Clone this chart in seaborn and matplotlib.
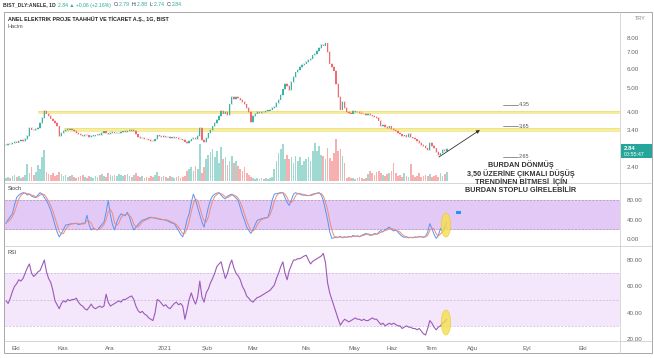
import numpy as np
import pandas as pd
import matplotlib
matplotlib.use("Agg")
import matplotlib.pyplot as plt
import seaborn as sns
from matplotlib.patches import Ellipse, Rectangle
from matplotlib.lines import Line2D
from matplotlib.ticker import NullLocator

# ---------------- data ----------------
closes = [
    2.95, 2.97, 2.96, 3.00, 3.02, 3.01, 3.05, 3.08, 3.06, 3.12,
    3.20, 3.45, 3.40, 3.38, 3.42, 3.45, 3.62, 3.80, 4.06, 3.95,
    3.85, 3.77, 3.70, 3.62, 3.50, 3.20, 3.30, 3.35, 3.38, 3.42,
    3.40, 3.40, 3.36, 3.30, 3.26, 3.22, 3.20, 3.24, 3.22, 3.18,
    3.20, 3.20, 3.22, 3.25, 3.24, 3.30, 3.34, 3.28, 3.26, 3.30,
    3.31, 3.28, 3.28, 3.30, 3.32, 3.34, 3.33, 3.36, 3.38, 3.36,
    3.36, 3.25, 3.18, 3.13, 3.15, 3.12, 3.10, 3.08, 3.06, 3.05,
    3.10, 3.22, 3.20, 3.18, 3.19, 3.16, 3.17, 3.14, 3.15, 3.16,
    3.14, 3.12, 3.10, 3.08, 3.04, 3.00, 3.05, 3.10, 3.15, 3.12,
    3.20, 3.45, 3.08, 3.02, 3.15, 3.28, 3.38, 3.50, 3.62, 3.71,
    3.85, 4.06, 3.95, 4.00, 3.90, 4.30, 4.60, 4.52, 4.60, 4.55,
    4.48, 4.40, 4.30, 4.15, 4.00, 3.66, 3.85, 3.95, 4.00, 3.98,
    4.02, 4.00, 4.04, 4.06, 4.10, 4.15, 4.20, 4.35, 4.50, 4.70,
    4.95, 5.20, 5.10, 4.90, 5.30, 5.55, 5.80, 5.95, 6.10, 6.20,
    6.30, 6.40, 6.50, 6.60, 6.80, 6.90, 7.10, 7.30, 7.50, 7.45,
    7.60, 7.00, 6.30, 6.10, 5.90, 5.20, 4.60, 4.10, 4.40, 4.15,
    4.00, 3.98, 3.95, 4.05, 4.00, 4.02, 3.98, 3.95, 3.92, 3.90,
    3.92, 3.88, 3.85, 3.82, 3.80, 3.70, 3.50, 3.55, 3.48, 3.45,
    3.50, 3.42, 3.38, 3.35, 3.30, 3.25, 3.20, 3.22, 3.18, 3.26,
    3.16, 3.14, 3.10, 3.05, 3.00, 2.95, 2.92, 2.85, 2.80, 3.00,
    2.92, 2.85, 2.75, 2.68, 2.72, 2.80, 2.78, 2.84,
]
first_open = 2.93

volume = [
    3, 4, 3, 5, 6, 4, 5, 3, 4, 6,
    17, 8, 14, 6, 9, 16, 12, 24, 31, 9,
    7, 6, 8, 5, 6, 9, 7, 5, 6, 4,
    5, 6, 4, 3, 4, 5, 6, 4, 3, 5,
    4, 3, 5, 4, 6, 7, 5, 4, 8, 6,
    5, 6, 5, 7, 6, 5, 6, 7, 5, 4,
    6, 8, 5, 4, 5, 3, 4, 3, 5, 4,
    6, 9, 5, 4, 5, 4, 3, 5, 4, 3,
    4, 5, 3, 4, 5, 10, 12, 14, 10, 15,
    12, 37, 8, 14, 22, 26, 29, 32, 24, 30,
    18, 34, 22, 24, 16, 20, 25, 18, 20, 15,
    12, 10, 14, 8, 6, 4, 3, 2, 3, 2,
    3, 2, 3, 2, 3, 4, 12, 20, 28, 32,
    37, 22, 26, 22, 24, 18, 25, 20, 24, 16,
    20, 22, 24, 20, 30, 38, 30, 35, 26, 25,
    22, 33, 23, 20, 28, 42, 30, 32, 25, 18,
    3, 4, 3, 3, 2, 3, 4, 3, 2, 3,
    7, 10, 8, 6, 9, 10, 8, 6, 5, 7,
    8, 10, 18, 8, 5, 6, 4, 8, 5, 4,
    17, 6, 4, 5, 8, 4, 5, 6, 5, 7,
    4, 5, 6, 4, 8, 5, 7, 9,
]

stoch_k = [
    32, 40, 46, 52, 70, 85, 90, 93, 95, 94,
    90, 92, 88, 86, 85, 90, 95, 92, 85, 79,
    70, 59, 45, 29, 15, 5, 12, 20, 29, 30,
    31, 32, 32, 33, 30, 31, 33, 32, 49, 30,
    19, 22, 20, 19, 25, 30, 35, 55, 79, 50,
    30, 19, 35, 45, 52, 50, 48, 55, 45, 30,
    19, 25, 30, 35, 39, 40, 42, 44, 45, 44,
    43, 42, 41, 40, 40, 39, 37, 35, 33, 32,
    25, 18, 10, 5, 20, 40, 52, 75, 92, 80,
    65, 50, 35, 25, 45, 65, 80, 88, 92, 94,
    95, 90, 85, 82, 88, 90, 92, 88, 84, 79,
    65, 50, 39, 25, 18, 12, 20, 30, 39, 40,
    42, 43, 44, 45, 60, 80, 92, 93, 94, 95,
    95, 85, 75, 69, 80, 92, 95, 93, 92, 90,
    90, 89, 89, 90, 92, 93, 94, 95, 90, 79,
    60, 40, 15, 2, 3, 5, 4, 6, 3, 5,
    4, 6, 5, 8, 6, 7, 5, 8, 10, 12,
    10, 8, 9, 12, 10, 14, 18, 15, 20, 22,
    25, 20, 17, 19, 15, 10, 6, 4, 5, 3,
    4, 3, 5, 4, 6, 5, 4, 6, 15, 32,
    22, 10, 2, 8, 22, 15, 25, 35,
]

stoch_d = [
    35, 36, 40, 46, 55, 69, 82, 89, 93, 94,
    93, 92, 90, 89, 86, 87, 90, 92, 91, 85,
    78, 69, 58, 44, 30, 16, 11, 12, 20, 26,
    30, 31, 32, 32, 32, 31, 31, 32, 38, 37,
    33, 24, 20, 20, 21, 25, 30, 40, 56, 61,
    53, 33, 28, 33, 44, 49, 50, 51, 49, 43,
    31, 25, 25, 30, 35, 38, 40, 42, 44, 44,
    44, 43, 42, 41, 40, 40, 39, 37, 35, 33,
    30, 25, 18, 11, 12, 22, 37, 56, 73, 82,
    79, 65, 50, 37, 35, 45, 63, 78, 87, 91,
    94, 93, 90, 86, 85, 87, 90, 90, 88, 84,
    76, 65, 51, 38, 27, 18, 17, 21, 30, 36,
    40, 42, 43, 44, 50, 62, 77, 88, 93, 94,
    95, 92, 85, 76, 75, 80, 89, 93, 93, 92,
    91, 90, 89, 89, 90, 92, 93, 94, 93, 88,
    76, 60, 38, 19, 7, 3, 4, 5, 4, 5,
    4, 5, 5, 6, 6, 7, 6, 7, 8, 10,
    11, 10, 9, 10, 10, 12, 14, 16, 18, 19,
    22, 22, 21, 19, 17, 15, 10, 7, 5, 4,
    4, 4, 4, 4, 5, 5, 5, 5, 8, 18,
    23, 21, 11, 7, 11, 15, 21, 25,
]

rsi = [
    49, 47, 51, 56, 60, 62, 65, 64, 66, 70,
    74, 77, 70, 67.5, 69, 71, 72, 76, 80, 71,
    66, 63, 57, 49, 46, 43, 47, 49, 48, 50,
    49, 50, 50, 51, 48, 46, 45, 43, 42, 44,
    46.5, 44, 43, 44, 45, 44, 45, 54, 48, 45,
    46, 47, 48, 49, 48, 50, 50, 51, 52, 52.7,
    50, 45, 41.6, 40, 41, 39, 38, 36, 35, 34,
    40, 50, 49, 47, 45, 46, 44, 43, 45, 47,
    48, 46, 47, 45, 35, 42, 50, 55, 50, 46.5,
    52, 64, 52, 48, 55, 58, 62.6, 66, 70, 75,
    77, 78.6, 72, 66, 70, 76, 80, 74, 70, 68,
    65, 60, 57, 52.7, 51, 49, 48, 50, 51.5, 52,
    53, 54, 55, 56, 57, 59, 61, 66, 70, 75,
    78.6, 70, 65, 72, 76, 80, 80, 81, 81, 82,
    83, 83.6, 80, 77, 79, 80, 81, 82, 83, 85,
    78, 62.6, 55, 50, 45, 40, 35, 30.5, 33, 35,
    34, 33, 34, 35, 36, 35, 35, 34, 35, 34,
    34, 35, 36, 35, 35, 33, 31, 32, 30, 31,
    32, 31, 32, 31, 30, 30, 28, 29, 30, 29,
    29, 28, 28, 27, 28, 26, 24, 23, 28, 34,
    32, 29, 27, 29, 30, 32, 33, 35,
]

month_labels = ["Eki", "Kas", "Ara", "2021", "Şub", "Mar", "Nis",
                "May", "Haz", "Tem", "Ağu", "Eyl", "Eki"]
month_pos = [4.8, 26.8, 48.8, 74.6, 94.4, 116.0, 140.8,
             163.8, 181.2, 200.0, 219.2, 244.6, 271.0]
price_ticks = [8.0, 7.0, 6.0, 5.0, 4.0, 3.4, 2.4]
band_levels = [4.0, 3.4]
band_start = [15.0, 27.0]
level_notes = ["4.35", "3.65", "2.65"]
stoch_ticks = [80, 40, 0]
rsi_ticks = [80, 60, 40, 20]
note_lines = ["BURDAN DÖNMÜŞ", "3,50 ÜZERİNE ÇIKMALI DÜŞÜŞ",
              "TRENDİNEN BİTMESİ  İÇİN", "BURDAN STOPLU GİRELEBİLİR"]
header_parts = [("BIST_DLY:ANELE, 1D ", "#333333"), ("2.84 ▲ +0.06 (+2.16%) ", "#26a69a"),
                ("O:", "#333333"), ("2.79 ", "#26a69a"), ("H:", "#333333"),
                ("2.88 ", "#26a69a"), ("L:", "#333333"), ("2.74 ", "#26a69a"),
                ("C:", "#333333"), ("2.84", "#26a69a")]

assert len(closes) == len(volume) == len(stoch_k) == len(stoch_d) == len(rsi)

n = len(closes)
df = pd.DataFrame({"i": np.arange(n), "close": closes, "vol": volume,
                   "k": stoch_k, "d": stoch_d, "rsi": rsi})
df["open"] = [first_open] + closes[:-1]
df["up"] = df["close"] >= df["open"]

# ---------------- figure ----------------
sns.set_style("white")
plt.rcParams["font.family"] = ["Liberation Sans", "DejaVu Sans"]

W, H = 654, 358
fig = plt.figure(figsize=(W / 100, H / 100), dpi=100)
fig.patch.set_facecolor("white")

def box(x0, y0, x1, y1):
    return [x0 / W, 1 - y1 / H, (x1 - x0) / W, (y1 - y0) / H]

def fx(px):
    return px / W

def fy(py):
    return 1 - py / H

XL = (-0.47, 288.3)
ax_p = fig.add_axes(box(5, 12, 620, 183))
ax_v = fig.add_axes(box(5, 12, 620, 183), sharex=ax_p)
ax_s = fig.add_axes(box(5, 183, 620, 246), sharex=ax_p)
ax_r = fig.add_axes(box(5, 246, 620, 341), sharex=ax_p)

for a in (ax_p, ax_v, ax_s, ax_r):
    for sp in a.spines.values():
        sp.set_visible(False)
    a.set_facecolor("none")
ax_v.set_zorder(0)
ax_p.set_zorder(1)

UP, DN = "#3bb3a6", "#f26a6d"
UPV, DNV = "#9fd9d1", "#f6b0b0"

# volume (1 unit == 1 px)
vcol = [UPV if u else DNV for u in df["up"]]
ax_v.bar(df["i"], df["vol"], width=0.8, color=vcol, linewidth=0, bottom=2)
ax_v.set_ylim(0, 171)
ax_v.set_yticks([])
ax_v.tick_params(axis="x", bottom=False, labelbottom=False)

# candles
ax_p.set_yscale("log")
lo = np.minimum(df["open"], df["close"])
hi = np.maximum(df["open"], df["close"])
hi = np.maximum(hi, lo * 1.006)
ccol = [UP if u else DN for u in df["up"]]
ax_p.bar(df["i"], hi - lo, bottom=lo, width=0.62, color=ccol, linewidth=0)
ax_p.vlines(df["i"], lo * 0.992, hi * 1.008, colors=ccol, linewidth=0.35)

top_p = 8 * np.exp(26 / 107)
bot_p = 8 * np.exp(-145 / 107)
ax_p.set_ylim(bot_p, top_p)
ax_p.set_xlim(*XL)

# yellow horizontal zones
for lvl, st in zip(band_levels, band_start):
    ax_p.axhspan(lvl * 0.99, lvl * 1.01, xmin=(st - XL[0]) / (XL[1] - XL[0]),
                 xmax=1, color="#f7ee9c", zorder=0.5, linewidth=0)
    ax_p.hlines([lvl * 0.99, lvl * 1.01], st, XL[1], colors="#ecd96a",
                linewidth=0.4, zorder=0.6)

ax_p.yaxis.tick_right()
ax_p.set_yticks(price_ticks)
ax_p.set_yticklabels([f"{t:.2f}" for t in price_ticks])
ax_p.yaxis.set_minor_locator(NullLocator())
ax_p.tick_params(axis="y", length=0, pad=5, labelsize=4.5, labelcolor="#666666")
ax_p.tick_params(axis="x", bottom=False, labelbottom=False)

# arrow
p_from = 8 * np.exp(-(157 - 38) / 107)
p_to = 8 * np.exp(-(130 - 38) / 107)
ax_p.annotate("", xy=((480 - 6) / 2.13, p_to), xytext=((439 - 6) / 2.13, p_from),
              arrowprops=dict(arrowstyle="-|>", color="#333333", lw=0.6,
                              mutation_scale=5, shrinkA=0, shrinkB=0))

# stoch
ax_s.axhspan(20, 80, color="#e3c9f6", linewidth=0, zorder=0)
for lv in (20, 80):
    ax_s.axhline(lv, color="#a898b8", lw=0.5, ls=(0, (3, 2)), zorder=0.5)
sns.lineplot(data=df, x="i", y="k", ax=ax_s, color="#5c93f0", lw=0.7)
sns.lineplot(data=df, x="i", y="d", ax=ax_s, color="#f08a7a", lw=0.7)
s_top = 80 + 17 * 60 / 29.5
s_bot = 20 - 16.5 * 60 / 29.5
ax_s.set_ylim(s_bot, s_top)
ax_s.yaxis.tick_right()
ax_s.set_yticks(stoch_ticks)
ax_s.set_yticklabels([f"{t:.2f}" for t in stoch_ticks])
ax_s.tick_params(axis="y", length=0, pad=5, labelsize=4.5, labelcolor="#666666")
ax_s.tick_params(axis="x", bottom=False, labelbottom=False)
ax_s.set_xlabel("")
ax_s.set_ylabel("")
ax_s.add_patch(Ellipse(((446 - 6) / 2.13, 80 - 25 * 60 / 29.5), 4.4, 49,
                       facecolor="#f6e04a", edgecolor="#e8c830", lw=0.5,
                       alpha=0.8, zorder=3))
ax_s.add_patch(Rectangle(((456 - 6) / 2.13, 80 - 13.5 * 60 / 29.5), 2.4, 6,
                         facecolor="#2196f3", linewidth=0, zorder=3))

# RSI
ax_r.axhspan(30, 70, color="#f4e6fb", linewidth=0, zorder=0)
for lv in (30, 50, 70):
    ax_r.axhline(lv, color="#c8b6d6", lw=0.5, ls=(0, (3, 2)), zorder=0.5)
sns.lineplot(data=df, x="i", y="rsi", ax=ax_r, color="#9b5bb8", lw=0.8)
r_scale = 60 / 79
ax_r.set_ylim(20 - 2 * r_scale, 80 + 14 * r_scale)
ax_r.yaxis.tick_right()
ax_r.set_yticks(rsi_ticks)
ax_r.set_yticklabels([f"{t:.2f}" for t in rsi_ticks])
ax_r.tick_params(axis="y", length=0, pad=5, labelsize=4.5, labelcolor="#666666")
ax_r.set_xticks(month_pos)
ax_r.set_xticklabels(month_labels)
ax_r.tick_params(axis="x", length=0, pad=3.5, labelsize=4.5, labelcolor="#666666")
ax_r.set_xlabel("")
ax_r.set_ylabel("")
ax_r.add_patch(Ellipse(((446 - 6) / 2.13, 80 - 62.5 * r_scale), 4.4, 25 * r_scale,
                       facecolor="#f6e04a", edgecolor="#e8c830", lw=0.5,
                       alpha=0.8, zorder=3))
ax_r.set_xlim(*XL)

# ---------------- frame / separators ----------------
lc = "#c8c8c8"
fig.add_artist(Rectangle((fx(4), fy(353)), fx(652) - fx(4), fy(12) - fy(353),
                         transform=fig.transFigure, fill=False, edgecolor="#9a9a9a",
                         lw=0.6))
for py in (183, 246, 341):
    fig.add_artist(Line2D([fx(4), fx(652)], [fy(py), fy(py)],
                          transform=fig.transFigure, color=lc, lw=0.5))
fig.add_artist(Line2D([fx(620), fx(620)], [fy(12), fy(353)],
                      transform=fig.transFigure, color=lc, lw=0.5))

# ---------------- texts ----------------
renderer = fig.canvas.get_renderer()
cur_x = 3.0
for txt, col in header_parts:
    t = fig.text(fx(cur_x), fy(5), txt, fontsize=3.7, color=col, va="center",
                 fontweight="bold" if col == "#333333" and txt.startswith("BIST") else "normal")
    bb = t.get_window_extent(renderer=renderer)
    cur_x += bb.width + (1.2 if txt.endswith(" ") else 0.3)

fig.text(fx(8), fy(19), "ANEL ELEKTRIK PROJE TAAHHÜT VE TİCARET A.Ş., 1G, BIST",
         fontsize=3.9, color="#222222", va="center", fontweight="bold")
fig.text(fx(8), fy(27), "Hacim", fontsize=4.0, color="#555555", va="center")
fig.text(fx(8), fy(189), "Stoch", fontsize=4.0, color="#444444", va="center")
fig.text(fx(8), fy(253), "RSI", fontsize=4.0, color="#444444", va="center")
fig.text(fx(640), fy(18), "TRY", fontsize=4, color="#888888", va="center", ha="center")

# level notes
for lab, py in zip(level_notes, (105, 126, 157)):
    fig.add_artist(Line2D([fx(503), fx(518)], [fy(py), fy(py)],
                          transform=fig.transFigure, color="#666666", lw=0.5))
    fig.text(fx(519), fy(py), lab, fontsize=4, color="#555555", va="center")

# comment block
for txt, py in zip(note_lines, (165, 173.5, 182, 190.5)):
    fig.text(fx(521), fy(py), txt, fontsize=5.2, color="#333333", va="center",
             ha="center", fontweight="bold")

# last price tag
fig.add_artist(Rectangle((fx(621), fy(158)), fx(652) - fx(621), fy(144) - fy(158),
                         transform=fig.transFigure, facecolor="#26a69a",
                         edgecolor="none"))
fig.text(fx(624), fy(148), "2.84", fontsize=4.3, color="white", va="center",
         fontweight="bold")
fig.text(fx(624), fy(154.5), "00:55:47", fontsize=3.8, color="white", va="center")

fig.savefig("out.png", dpi=100, facecolor="white")
